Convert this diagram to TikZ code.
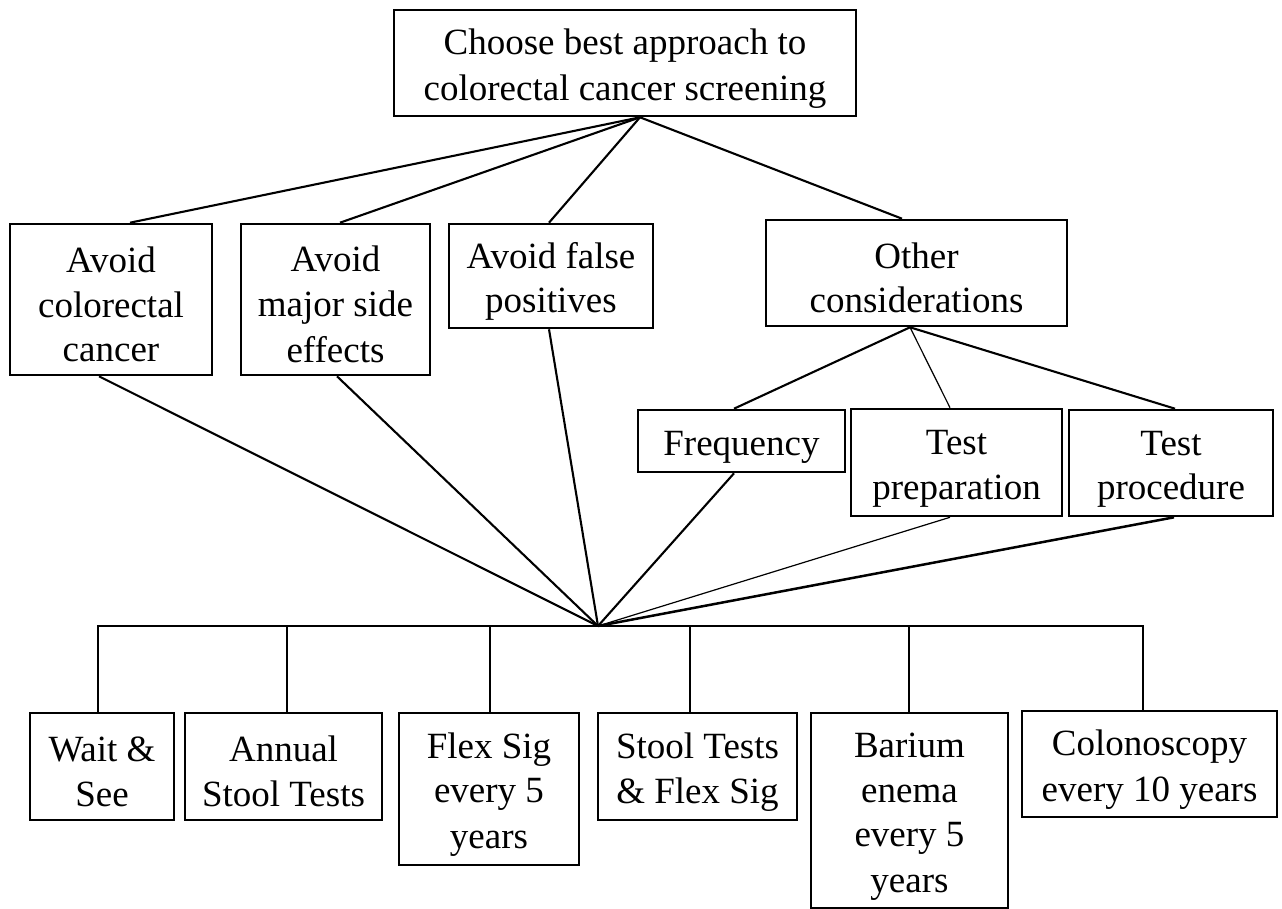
\documentclass[tikz,border=0pt]{standalone}
\usepackage{fontspec}
\setmainfont{Liberation Serif}
% fixed line box: height 37pt, depth 2pt
\newcommand{\linebox}{\rule[-2pt]{0pt}{39pt}}
\begin{document}
\begin{tikzpicture}[x=1pt,y=-1pt,
  box/.style={draw,line width=2.6pt,inner sep=0pt,align=center,
    font=\fontsize{37}{44.5}\selectfont},
  link/.style={line width=2.1pt},
  thinlink/.style={line width=1.2pt}]
\useasboundingbox (0,0) rectangle (1282,909);

% box given by its corners x1,x2,y1,y2
\newcommand{\boxat}[6]{%
  \node[box,minimum width={#3-#2},minimum height={#5-#4}]
    (#1) at ({(#2+#3)/2},{(#4+#5)/2}) {\linebox#6\linebox};}

% goal
\boxat{root}{394}{856}{10}{116}{Choose best approach to\\colorectal cancer screening}

% criteria
\boxat{a1}{10}{212}{224}{375}{Avoid\\colorectal\\cancer}
\boxat{a2}{241}{430}{224}{375}{Avoid\\major side\\effects}
\boxat{a3}{449}{653}{224}{328}{Avoid false\\positives}
\boxat{a4}{766}{1067}{220}{326}{Other\\considerations}

% sub-criteria
\boxat{c1}{638}{845}{410}{472}{Frequency}
\boxat{c2}{851}{1062}{409}{516}{Test\\preparation}
\boxat{c3}{1069}{1273}{410}{516}{Test\\procedure}

% alternatives
\boxat{b1}{30}{174}{713}{820}{Wait \&\\See}
\boxat{b2}{185}{382}{713}{820}{Annual\\Stool Tests}
\boxat{b3}{399}{579}{713}{865}{Flex Sig\\every 5\\years}
\boxat{b4}{598}{797}{713}{820}{Stool Tests\\\& Flex Sig}
\boxat{b5}{811}{1008}{713}{908}{Barium\\enema\\every 5\\years}
\boxat{b6}{1022}{1277}{711}{817}{Colonoscopy\\every 10 years}

% branching points
\coordinate (R) at ([xshift=15pt]root.south);
\coordinate (O) at ([xshift=-6.5pt]a4.south);
\coordinate (J) at (598,626);

% goal to criteria
\draw[link] (R) -- ([xshift=19pt]a1.north);
\draw[link] (R) -- ([xshift=4.5pt]a2.north);
\draw[link] (R) -- ([xshift=-2pt]a3.north);
\draw[link] (R) -- ([xshift=-14.5pt]a4.north);

% other considerations to sub-criteria
\draw[link] (O) -- ([xshift=-7.5pt]c1.north);
\draw[thinlink] (O) -- ([xshift=-6.5pt]c2.north);
\draw[link] (O) -- ([xshift=4pt]c3.north);

% criteria to the alternatives bus
\draw[link] ([xshift=-12pt]a1.south) -- (J);
\draw[link] ([xshift=1.5pt]a2.south) -- (J);
\draw[link] ([xshift=-2pt]a3.south) -- (J);
\draw[link] ([xshift=-7.5pt]c1.south) -- (J);
\draw[thinlink] ([xshift=-6.5pt]c2.south) -- (J);
\draw[line width=2.5pt] ([xshift=3pt]c3.south) -- (J);

% bus and drops to alternatives
\draw[link] ([xshift=-4pt]b1.north) |- (J) -| ([xshift=-6.5pt]b6.north);
\draw[link] ([xshift=3.5pt]b2.north) -- ([xshift=3.5pt]b2.north |- J);
\draw[link] ([xshift=1pt]b3.north) -- ([xshift=1pt]b3.north |- J);
\draw[link] ([xshift=-7.5pt]b4.north) -- ([xshift=-7.5pt]b4.north |- J);
\draw[link] ([xshift=-0.5pt]b5.north) -- ([xshift=-0.5pt]b5.north |- J);
\end{tikzpicture}
\end{document}
